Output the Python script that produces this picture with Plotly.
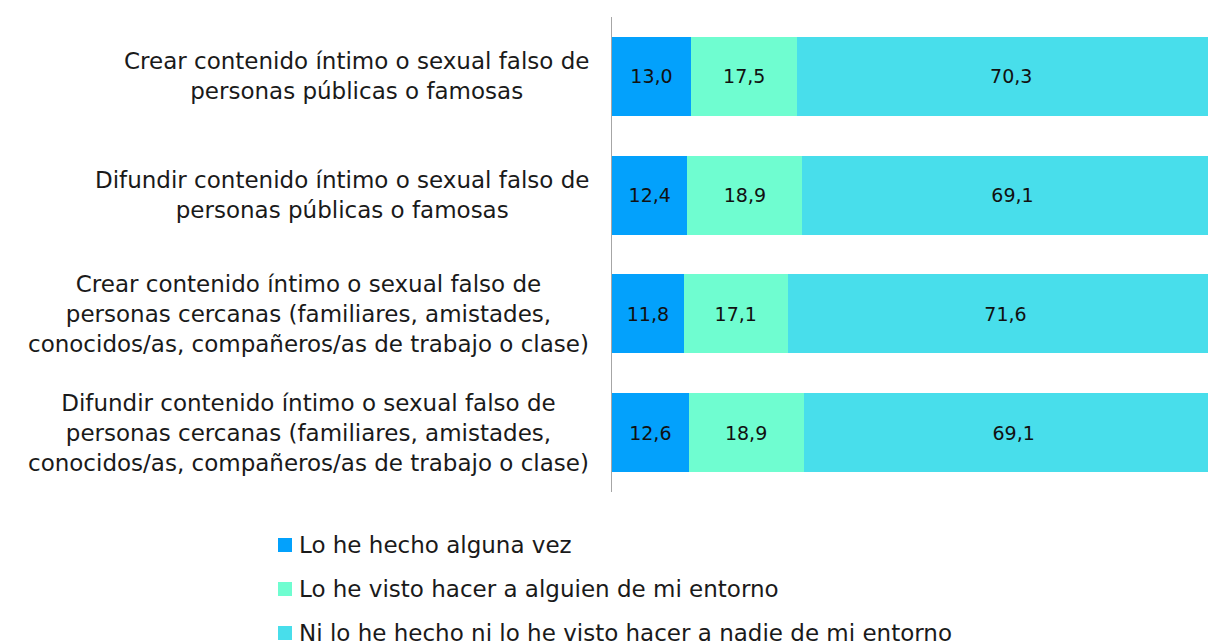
import plotly.graph_objects as go

categories = [
    "Crear contenido íntimo o sexual falso de<br>personas públicas o famosas",
    "Difundir contenido íntimo o sexual falso de<br>personas públicas o famosas",
    "Crear contenido íntimo o sexual falso de<br>personas cercanas (familiares, amistades,<br>conocidos/as, compañeros/as de trabajo o clase)",
    "Difundir contenido íntimo o sexual falso de<br>personas cercanas (familiares, amistades,<br>conocidos/as, compañeros/as de trabajo o clase)",
]
series_names = [
    "Lo he hecho alguna vez",
    "Lo he visto hacer a alguien de mi entorno",
    "Ni lo he hecho ni lo he visto hacer a nadie de mi entorno",
]
hecho = [13.0, 12.4, 11.8, 12.6]
visto = [17.5, 18.9, 17.1, 18.9]
ninguno = [70.3, 69.1, 71.6, 69.1]
colors = ["#03A1FC", "#6FFDD0", "#48DEEB"]

FONT = "DejaVu Sans"
W, H = 1208, 644
ML, MR, MT, MB = 612, 0, 17, 152
PW, PH = W - ML - MR, H - MT - MB

def px_x(px):
    return (px - ML) / PW

def px_y(py):
    return (H - MB - py) / PH

fig = go.Figure()
for i, (name, vals) in enumerate(zip(series_names, [hecho, visto, ninguno])):
    fig.add_trace(go.Bar(
        y=categories, x=vals, name=name, orientation="h",
        marker=dict(color=colors[i], line=dict(width=0)),
        text=vals, texttemplate="%{x:.1f}", textposition="inside",
        insidetextanchor="middle", textangle=0,
        textfont=dict(family=FONT, size=19, color="#111111"),
        width=0.665, showlegend=False, hoverinfo="skip",
    ))

for c in categories:
    fig.add_annotation(x=px_x(591), xref="paper", y=c, yref="y", text=c,
                       xanchor="right", align="center", showarrow=False,
                       font=dict(family=FONT, size=23, color="#1a1a1a"))

# legend drawn as squares + text
legend_y = [545, 589, 633]
for name, col, ly in zip(series_names, colors, legend_y):
    fig.add_shape(type="rect", xref="paper", yref="paper",
                  x0=px_x(278), x1=px_x(292), y0=px_y(ly + 7), y1=px_y(ly - 7),
                  fillcolor=col, line=dict(width=0))
    fig.add_annotation(x=px_x(297), xref="paper", y=px_y(ly), yref="paper",
                       text=name, xanchor="left", yanchor="middle", showarrow=False,
                       font=dict(family=FONT, size=23, color="#1a1a1a"))

fig.update_layout(
    barmode="stack", separators=",.",
    width=W, height=H,
    margin=dict(l=ML, r=MR, t=MT, b=MB),
    plot_bgcolor="white", paper_bgcolor="white",
    font=dict(family=FONT, size=20, color="#1a1a1a"),
    xaxis=dict(range=[0, 98], showgrid=False, showticklabels=False,
               zeroline=False, showline=False, fixedrange=True),
    yaxis=dict(categoryorder="array", categoryarray=categories,
               autorange="reversed", showticklabels=False, showgrid=False,
               showline=True, linecolor="#a6a6a6", linewidth=1, ticks="",
               fixedrange=True),
    showlegend=False,
)
fig.write_html("out.html", config={"displayModeBar": False},
               post_script="document.body.style.margin='0';document.body.style.overflow='hidden';")
